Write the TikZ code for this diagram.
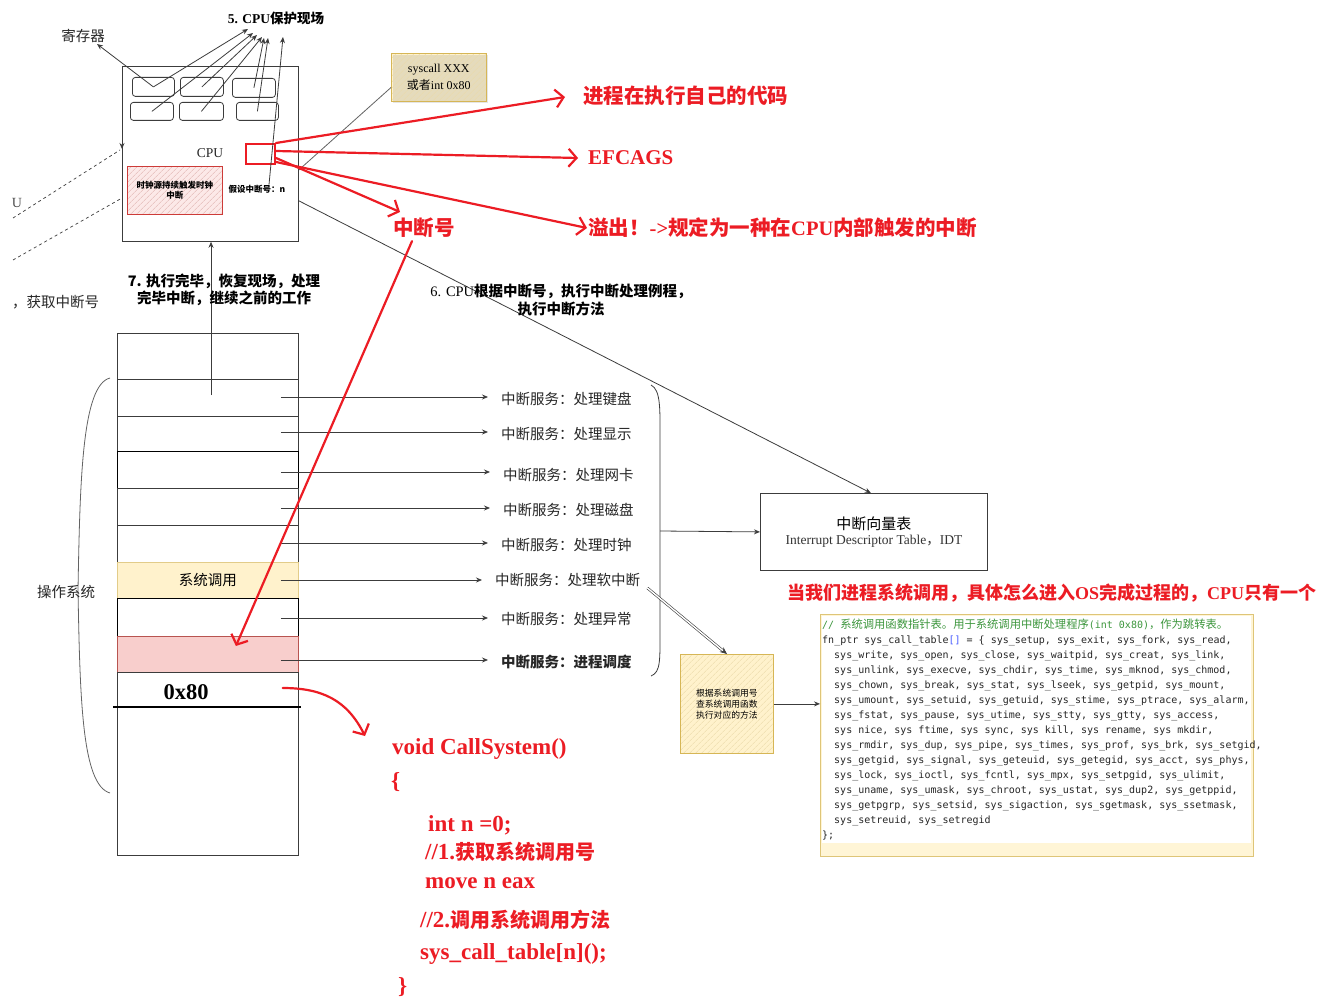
\documentclass[tikz,border=0pt]{standalone}
\usepackage{fontspec}
\setmainfont{Liberation Serif}
\setmonofont{DejaVu Sans Mono}
\newfontfamily\cjk{Noto Sans CJK SC}
\usetikzlibrary{arrows.meta,patterns.meta,calc,shadows}
\definecolor{hred}{RGB}{236,28,36}
\definecolor{lncol}{RGB}{60,60,60}
\definecolor{yfill}{RGB}{255,242,204}
\definecolor{ydraw}{RGB}{214,182,86}
\definecolor{rfill}{RGB}{248,206,204}
\definecolor{rdraw}{RGB}{184,84,80}
\definecolor{cgreen}{RGB}{60,150,60}
\definecolor{cblue}{RGB}{70,90,255}
\newcommand\zh[1]{{\cjk #1}}
\begin{document}
\begin{tikzpicture}[x=1pt,y=-1pt,
  ln/.style={draw=lncol, line width=0.8pt},
  arr/.style={ln, -{Stealth[length=6pt,width=5pt]}},
  box/.style={draw=lncol, line width=0.8pt, inner sep=0, anchor=north west},
  lab/.style={inner sep=0, font=\cjk\fontsize{14.5}{17}\selectfont, text=black!85},
  svc/.style={lab, anchor=west},
  redln/.style={draw=hred, line width=2.2pt, line cap=round, -{Straight Barb[length=8pt,width=18pt]}},
  redtxt/.style={inner sep=0, text=hred, font=\bfseries\fontsize{20.5}{24}\selectfont},
  redcode/.style={inner sep=0, anchor=west, text=hred, font=\bfseries\fontsize{23}{26}\selectfont},
  hatchy/.style={draw=ydraw, line width=0.8pt, preaction={fill=yfill}, pattern={Lines[angle=45,distance=4pt,line width=0.5pt]}, pattern color=ydraw!50},
]
\useasboundingbox (0,0) rectangle (1330,1000);
\fill[white] (0,0) rectangle (1330,1000);

% ---------------- CPU ----------------
\node[box, minimum width=176pt, minimum height=175pt] (cpu) at (122,66) {};
\node[inner sep=0, font=\fontsize{13.5}{16}\selectfont, text=black!85] (cpulbl) at (210,153) {CPU};
\node[box, rounded corners=3pt, minimum width=42pt, minimum height=19pt] (r1) at (132,77) {};
\node[box, rounded corners=3pt, minimum width=43pt, minimum height=19pt] (r2) at (180,77) {};
\node[box, rounded corners=3pt, minimum width=43pt, minimum height=19pt] (r3) at (232,78) {};
\node[box, rounded corners=3pt, minimum width=43pt, minimum height=18pt] (r4) at (130,102) {};
\node[box, rounded corners=3pt, minimum width=44pt, minimum height=18pt] (r5) at (179,102) {};
\node[box, rounded corners=3pt, minimum width=42pt, minimum height=18pt] (r6) at (236,102) {};

\node[box, draw=rdraw!70!red, line width=0.9pt, preaction={fill=rfill!45}, pattern={Lines[angle=45,distance=4pt,line width=0.6pt]}, pattern color=rdraw!45, minimum width=95pt, minimum height=48pt, align=center, font=\cjk\bfseries\fontsize{8.5}{10.5}\selectfont] (clk) at (127,166) {时钟源持续触发时钟\\中断};
\node[inner sep=0, font=\cjk\bfseries\fontsize{8.5}{10}\selectfont] (intno) at (257,189) {假设中断号：n};
\node[box, draw=hred, line width=2pt, minimum width=29pt, minimum height=20pt] (rr) at (245,143) {};

\node[lab] (reg) at (83,36) {寄存器};
\node[inner sep=0, font=\bfseries\fontsize{13.5}{16}\selectfont] (save) at (276,18) {5. CPU\zh{保护现场}};

\coordinate (regtip) at (97,44);
\coordinate (ta) at (248,29);
\coordinate (tb) at (253,33);
\coordinate (tc) at (257,35);
\coordinate (td) at (262,37);
\coordinate (te) at (264,38);
\coordinate (tf) at (268,38);
\coordinate (tg) at (283,37);
\draw[arr] (r1.center) -- (regtip);
\draw[arr] (r1.center) -- (ta);
\draw[arr] (r4.center) -- (tb);
\draw[arr] (r2.center) -- (tc);
\draw[arr] (r5.center) -- (td);
\draw[arr] (r3.center) -- (te);
\draw[arr] (r6.center) -- (tf);
\coordinate (intst) at ($(intno.north)+(12,0)$);
\draw[arr] (intst) -- (tg);

% left dashed lines
\coordinate (d1a) at (13,218); \coordinate (d1b) at (120,150);
\coordinate (d2a) at (13,260); \coordinate (d2b) at (122,198);
\draw[draw=lncol, line width=0.7pt, dashed] (d1a) -- (d1b);
\draw[draw=lncol, line width=0.7pt, dashed] (d2a) -- (d2b);
\coordinate (ltop) at (122,138);
\draw[arr] (ltop) -- ($(cpu.north west)+(0,83)$);
\node[inner sep=0, font=\fontsize{14}{16}\selectfont, text=black!70] (u) at (17,203) {U};
\node[svc] (getno) at (12,302) {，获取中断号};

% step 7
\coordinate (upst) at (211,395);
\draw[arr] (upst) -- (upst |- cpu.south);
\node[inner sep=0, align=center, font=\cjk\bfseries\fontsize{14.5}{17.5}\selectfont] (restore) at (224,290) {7. 执行完毕，恢复现场，处理\\完毕中断，继续之前的工作};

% syscall box
\node[box, hatchy, drop shadow={shadow xshift=1.5pt, shadow yshift=-1.5pt, opacity=0.2}, minimum width=95pt, minimum height=48pt, align=center, font=\fontsize{12}{17}\selectfont] (sysc) at (391,53) {syscall XXX\\\zh{或者}int 0x80};
\draw[ln, draw=lncol!80] ($(sysc.south west)+(0,-14)$) -- ($(cpu.north east)+(0,104)$);

% ---------------- memory column ----------------
\node[box, minimum width=181pt, minimum height=46pt] (m0) at (117,333) {};
\node[box, minimum width=181pt, minimum height=37pt] (m1) at (117,379) {};
\node[box, minimum width=181pt, minimum height=35pt] (m2) at (117,416) {};
\node[box, draw=black, minimum width=181pt, minimum height=37pt] (m3) at (117,451) {};
\node[box, minimum width=181pt, minimum height=37pt] (m4) at (117,488) {};
\node[box, minimum width=181pt, minimum height=37pt] (m5) at (117,525) {};
\node[box, draw=ydraw!70, fill=yfill, minimum width=181pt, minimum height=36pt, font=\cjk\fontsize{14.5}{17}\selectfont] (m6) at (117,562) {系统调用};
\node[box, draw=black, minimum width=181pt, minimum height=38pt] (m7) at (117,598) {};
\node[box, draw=rdraw, fill=rfill, minimum width=181pt, minimum height=36pt] (m8) at (117,636) {};
\node[box, minimum width=181pt, minimum height=35pt] (m9) at (117,672) {};
\node[box, minimum width=181pt, minimum height=148pt] (m10) at (117,707) {};
\node[inner sep=0, font=\bfseries\fontsize{22.5}{24}\selectfont] (hex) at (186,692) {0x80};
\draw[line width=2.6pt] (113,707) -- (301,707);

% left brace
\draw[draw=lncol!80, line width=0.8pt] (110,378) .. controls (82,385) and (80,480) .. (78,590) .. controls (80,700) and (82,785) .. (110,793);
\node[lab] (os) at (66,592) {操作系统};

% services
\node[svc] (s1) at (501,399) {中断服务：处理键盘};
\node[svc] (s2) at (501,434) {中断服务：处理显示};
\node[svc] (s3) at (503,475) {中断服务：处理网卡};
\node[svc] (s4) at (503,510) {中断服务：处理磁盘};
\node[svc] (s5) at (501,545) {中断服务：处理时钟};
\node[svc] (s6) at (495,580) {中断服务：处理软中断};
\node[svc] (s7) at (501,619) {中断服务：处理异常};
\node[svc, font=\cjk\bfseries\fontsize{14.5}{17}\selectfont] (s8) at (501,662) {中断服务：进程调度};
\foreach \m/\s/\dy in {m1/s1/-2, m2/s2/-2, m3/s3/-3, m4/s4/-2, m5/s5/-2, m6/s6/0, m7/s7/-1, m8/s8/-2}{
  \coordinate (a\s) at ($(\s.west -| \m.east)+(-18,\dy)$);
  \draw[arr] (a\s) -- ($(\s.west)+(-13,\dy)$);
}

% right brace and IDT
\draw[ln] (651,385) .. controls (661,390) and (660,410) .. (660,440) -- (660,625) .. controls (660,660) and (661,672) .. (651,676);
\coordinate (btip) at (660,531);
\node[box, minimum width=227pt, minimum height=77pt, align=center] (idt) at (760,493) {\zh{\fontsize{15}{20}\selectfont 中断向量表}\\[3pt]{\fontsize{13.5}{16}\selectfont\color{black!80}Interrupt Descriptor Table\zh{，}IDT}};
\draw[arr] (btip) -- (idt.west);
\coordinate (cpur) at ($(cpu.south east)+(0,-41)$);
\draw[arr] (cpur) -- ($(idt.north)+(-3,0)$);
\node[inner sep=0, align=center, font=\bfseries\fontsize{14.5}{18}\selectfont] (step6) at (561,300) {{\mdseries 6. CPU}\zh{根据中断号，执行中断处理例程，}\\\zh{执行中断方法}};

% yellow helper box
\node[box, hatchy, minimum width=93pt, minimum height=99pt, align=center, font=\cjk\fontsize{8.8}{11}\selectfont] (yb) at (680,654) {根据系统调用号\\查系统调用函数\\执行对应的方法};
\draw[draw=lncol, line width=0.6pt, double, double distance=1.4pt, -{Stealth[length=7pt,width=6pt]}] ($(s6.east)+(7,8)$) -- (yb.north);

% code box
\node[box, draw=ydraw!80, fill=yfill!80, line width=0.8pt, minimum width=433pt, minimum height=242pt] (codebox) at (820,614) {};
\fill[white] (822,616) rectangle (1251,843);
\draw[arr] (yb.east) -- (yb.east -| codebox.west);
\node[inner sep=0, anchor=north west, align=left, font=\ttfamily\fontsize{10}{15}\selectfont, text=black!85] (codetxt) at (822,619) {%
\textcolor{cgreen}{// {\cjk\fontsize{11.3}{15}\selectfont 系统调用函数指针表。用于系统调用中断处理程序}(int 0x80){\cjk\fontsize{11.3}{15}\selectfont ，作为跳转表。}}\\
fn\_ptr sys\_call\_table\textcolor{cblue}{[]} = \{ sys\_setup, sys\_exit, sys\_fork, sys\_read,\\
\hspace*{12pt}sys\_write, sys\_open, sys\_close, sys\_waitpid, sys\_creat, sys\_link,\\
\hspace*{12pt}sys\_unlink, sys\_execve, sys\_chdir, sys\_time, sys\_mknod, sys\_chmod,\\
\hspace*{12pt}sys\_chown, sys\_break, sys\_stat, sys\_lseek, sys\_getpid, sys\_mount,\\
\hspace*{12pt}sys\_umount, sys\_setuid, sys\_getuid, sys\_stime, sys\_ptrace, sys\_alarm,\\
\hspace*{12pt}sys\_fstat, sys\_pause, sys\_utime, sys\_stty, sys\_gtty, sys\_access,\\
\hspace*{12pt}sys nice, sys ftime, sys sync, sys kill, sys rename, sys mkdir,\\
\hspace*{12pt}sys\_rmdir, sys\_dup, sys\_pipe, sys\_times, sys\_prof, sys\_brk, sys\_setgid,\\
\hspace*{12pt}sys\_getgid, sys\_signal, sys\_geteuid, sys\_getegid, sys\_acct, sys\_phys,\\
\hspace*{12pt}sys\_lock, sys\_ioctl, sys\_fcntl, sys\_mpx, sys\_setpgid, sys\_ulimit,\\
\hspace*{12pt}sys\_uname, sys\_umask, sys\_chroot, sys\_ustat, sys\_dup2, sys\_getppid,\\
\hspace*{12pt}sys\_getpgrp, sys\_setsid, sys\_sigaction, sys\_sgetmask, sys\_ssetmask,\\
\hspace*{12pt}sys\_setreuid, sys\_setregid\\
\};};

% ---------------- red annotations ----------------
\node[redtxt, anchor=west] (t1) at (583,96) {\zh{进程在执行自己的代码}};
\node[redtxt, anchor=west, font=\bfseries\fontsize{21}{24}\selectfont] (t2) at (588,158) {EFCAGS};
\node[redtxt] (t3) at (424,228) {\zh{中断号}};
\node[redtxt, anchor=west] (t4) at (588,228) {\zh{溢出！}->\zh{规定为一种在}CPU\zh{内部触发的中断}};
\node[redtxt, anchor=west, font=\bfseries\fontsize{18}{22}\selectfont] (t5) at (787,593) {\zh{当我们进程系统调用，具体怎么进入}OS\zh{完成过程的，}CPU\zh{只有一个}};

\coordinate (tip1) at (565,97);
\coordinate (tip2) at (578,158);
\coordinate (tip3) at (400,212);
\coordinate (tip4) at (587,228);
\draw[redln] (rr.north east) -- (tip1);
\draw[redln] ($(rr.east)+(0,-3)$) -- (tip2);
\draw[redln] ($(rr.east)+(0,4)$) -- (tip3);
\draw[redln] ($(rr.south east)+(0,-3)$) -- (tip4);
\coordinate (t3s) at ($(t3.south)+(-12,3)$);
\draw[redln] (t3s) -- ($(m8.north)+(28,10)$);
\coordinate (hexr) at ($(hex.east)+(74,-4)$);
\coordinate (tip5) at (365,736);
\draw[redln] (hexr) .. controls (322,688) and (347,700) .. (tip5);

\node[redcode] (c1) at (392,749) {void CallSystem()};
\node[redcode] (c2) at (391,782) {\{};
\node[redcode] (c3) at (428,825) {int n =0;};
\node[redcode] (c4) at (425,852) {//1.\zh{\fontsize{20}{24}\selectfont 获取系统调用号}};
\node[redcode] (c5) at (425,883) {move n eax};
\node[redcode] (c6) at (420,920) {//2.\zh{\fontsize{20}{24}\selectfont 调用系统调用方法}};
\node[redcode] (c7) at (420,954) {sys\_call\_table[n]();};
\node[redcode] (c8) at (398,987) {\}};
\end{tikzpicture}
\end{document}
